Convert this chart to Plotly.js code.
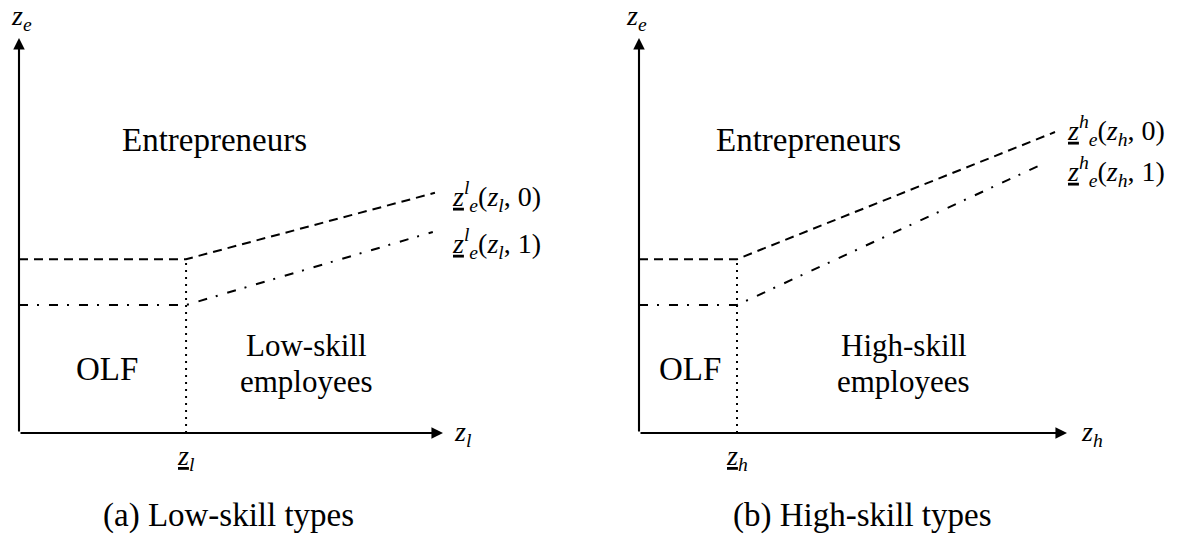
<!DOCTYPE html>
<html>
<head>
<meta charset="utf-8">
<script src="https://cdn.plot.ly/plotly-3.0.1.min.js"></script>
<style>html,body{margin:0;padding:0;background:#fff;}#chart{width:1189px;height:540px;}</style>
</head>
<body>
<div id="chart"></div>
<script>
// ---- data (diagram units: axes run from 0 to 10) ----
const axisEnd = 10;
// panel (a) low-skill
const lowThreshold = 3.94;
const lowDashX = [0, 3.94, 9.81];
const lowDashY = [4.4, 4.4, 6.08];
const lowDashDotX = [0, 3.94, 9.76];
const lowDashDotY = [3.24, 3.24, 5.09];
// panel (b) high-skill
const highThreshold = 2.29;
const highDashX = [0, 2.29, 9.72];
const highDashY = [4.4, 4.4, 7.62];
const highDashDotX = [0, 2.29, 9.49];
const highDashDotY = [3.24, 3.24, 6.84];

const regionLabels = {
  a: ['Entrepreneurs', 'OLF', 'Low-skill', 'employees'],
  b: ['Entrepreneurs', 'OLF', 'High-skill', 'employees']
};
const captions = ['(a) Low-skill types', '(b) High-skill types'];
const curveLabelsA = ['<u><i>z</i></u><sup><i>l</i></sup><sub><i>e</i></sub>(<i>z</i><sub><i>l</i></sub>, 0)',
                      '<u><i>z</i></u><sup><i>l</i></sup><sub><i>e</i></sub>(<i>z</i><sub><i>l</i></sub>, 1)'];
const curveLabelsB = ['<u><i>z</i></u><sup><i>h</i></sup><sub><i>e</i></sub>(<i>z</i><sub><i>h</i></sub>, 0)',
                      '<u><i>z</i></u><sup><i>h</i></sup><sub><i>e</i></sub>(<i>z</i><sub><i>h</i></sub>, 1)'];
const axisLabelsA = {x: '<i>z</i><sub><i>l</i></sub>', y: '<i>z</i><sub><i>e</i></sub>', tick: '<u><i>z</i></u><sub><i>l</i></sub>'};
const axisLabelsB = {x: '<i>z</i><sub><i>h</i></sub>', y: '<i>z</i><sub><i>e</i></sub>', tick: '<u><i>z</i></u><sub><i>h</i></sub>'};

// ---- layout geometry ----
const W = 1189, H = 540;
const xr = [-0.4, 12.8], yr = [-2.6, 10.9];
function dom(ox, oy, sx, sy) {
  return {
    x: [(ox + xr[0]*sx)/W, (ox + xr[1]*sx)/W],
    y: [(H - (oy - yr[0]*sy))/H, (H - (oy - yr[1]*sy))/H]
  };
}
const dA = dom(19, 433, 42.4, 39.5);
const dB = dom(639, 433, 42.8, 39.5);

const DASH = '9px,6px';
const DASHDOT = '9px,9px,2px,10px';
const DOT = '2px,5px';
const black = '#000';

function line(x, y, dash, xa, ya) {
  return {x, y, xaxis: xa, yaxis: ya, type: 'scatter', mode: 'lines',
    line: {color: black, width: 2, dash}, hoverinfo: 'skip', showlegend: false, cliponaxis: false};
}

const traces = [
  line(lowDashX, lowDashY, DASH, 'x', 'y'),
  line(lowDashDotX, lowDashDotY, DASHDOT, 'x', 'y'),
  line([lowThreshold, lowThreshold], [0, lowDashY[1]], DOT, 'x', 'y'),
  line(highDashX, highDashY, DASH, 'x2', 'y2'),
  line(highDashDotX, highDashDotY, DASHDOT, 'x2', 'y2'),
  line([highThreshold, highThreshold], [0, highDashY[1]], DOT, 'x2', 'y2')
];

const serif = 'Liberation Serif, Times New Roman, serif';
const big = {family: serif, size: 33, color: black};
const mid = {family: serif, size: 31, color: black};
const math = {family: serif, size: 28, color: black};

function txt(xref, yref, x, y, text, font, xanchor) {
  return {xref, yref, x, y, text, font, showarrow: false, xanchor: xanchor || 'center', yanchor: 'middle'};
}
function arrow(xref, yref, x, y) {
  return {xref, yref, axref: xref, ayref: yref, x, y, ax: 0, ay: 0, text: '', showarrow: true,
    arrowhead: 2, arrowsize: 1.1, arrowwidth: 2.1, arrowcolor: black, standoff: 0, startstandoff: 0};
}

function panelAnn(xref, yref, labels, curveLabels, axl, caption, pos) {
  return [
    arrow(xref, yref, axisEnd, 0),
    arrow(xref, yref, 0, axisEnd),
    txt(xref, yref, pos.ent, 7.42, labels[0], big),
    txt(xref, yref, pos.olf, 1.62, labels[1], big),
    txt(xref, yref, pos.emp, 2.22, labels[2], mid),
    txt(xref, yref, pos.emp, 1.30, labels[3], mid),
    txt(xref, yref, pos.cl, pos.c0, curveLabels[0], math, 'left'),
    txt(xref, yref, pos.cl, pos.c1, curveLabels[1], math, 'left'),
    txt(xref, yref, pos.xl, 0, axl.x, math),
    txt(xref, yref, pos.yl, 10.53, axl.y, math),
    txt(xref, yref, pos.thr, -0.63, axl.tick, math),
    txt(xref, yref, pos.cap, -2.08, caption, big)
  ];
}

const annotations = [].concat(
  panelAnn('x', 'y', regionLabels.a, curveLabelsA, axisLabelsA, captions[0],
    {ent: 4.62, olf: 2.08, emp: 6.77, cl: 10.17, c0: 6.0, c1: 4.81, xl: 10.47, yl: 0.07, thr: lowThreshold, cap: 4.93}),
  panelAnn('x2', 'y2', regionLabels.b, curveLabelsB, axisLabelsB, captions[1],
    {ent: 3.95, olf: 1.19, emp: 6.19, cl: 9.95, c0: 7.65, c1: 6.63, xl: 10.58, yl: -0.05, thr: highThreshold, cap: 5.21})
);

function ax(domain, range, anchor) {
  return {domain, range, anchor, showgrid: false, zeroline: false, showline: false,
    showticklabels: false, ticks: '', fixedrange: true};
}

const layout = {
  width: W, height: H,
  margin: {l: 0, r: 0, t: 0, b: 0},
  paper_bgcolor: '#fff', plot_bgcolor: '#fff',
  showlegend: false,
  xaxis: ax(dA.x, xr, 'y'), yaxis: ax(dA.y, yr, 'x'),
  xaxis2: ax(dB.x, xr, 'y2'), yaxis2: ax(dB.y, yr, 'x2'),
  annotations
};

Plotly.newPlot('chart', traces, layout, {staticPlot: true, displayModeBar: false});
</script>
</body>
</html>
